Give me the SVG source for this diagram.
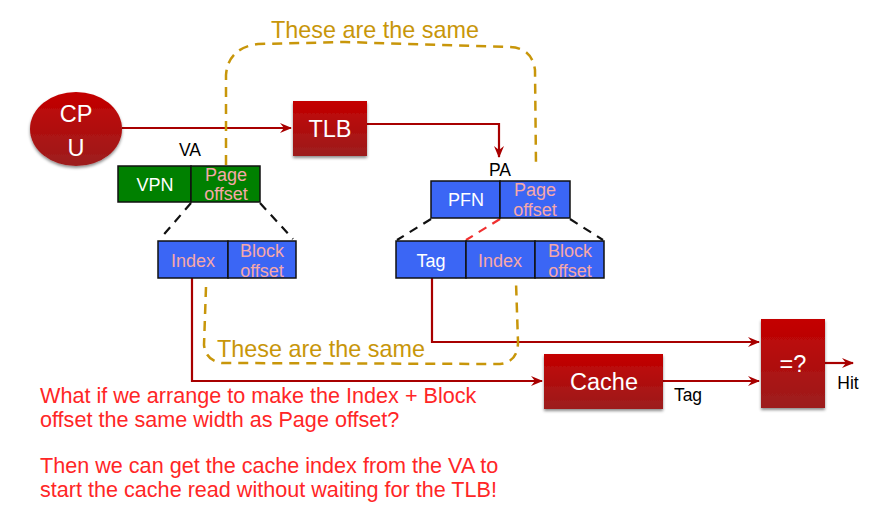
<svg xmlns="http://www.w3.org/2000/svg" width="870" height="507" viewBox="0 0 870 507">
<defs>
<linearGradient id="rg" x1="0" y1="0" x2="0" y2="1">
<stop offset="0" stop-color="#c40000"/>
<stop offset="1" stop-color="#9c1e1e"/>
</linearGradient>
<filter id="sh" x="-20%" y="-20%" width="140%" height="140%">
<feDropShadow dx="0" dy="2" stdDeviation="1.5" flood-color="#000" flood-opacity="0.45"/>
</filter>
<marker id="ah" viewBox="0 0 12 10" refX="11" refY="5" markerWidth="12" markerHeight="10" markerUnits="userSpaceOnUse" orient="auto">
<path d="M0,0 L12,5 L0,10 L4,5 z" fill="#a80000"/>
</marker>
<style>
text{font-family:"Liberation Sans",Arial,sans-serif}
.red{fill:url(#rg);filter:url(#sh)}
.wt{fill:#fff;font-size:23.5px;text-anchor:middle}
.bk{fill:#000;font-size:17.5px;text-anchor:middle}
.grn{fill:#008000;stroke:#111;stroke-width:1.5}
.blu{fill:#3b66f5;stroke:#111;stroke-width:1.5}
.cw{fill:#fff;font-size:18px;text-anchor:middle}
.cp{fill:#f6a8a8;font-size:18px;text-anchor:middle}
.wire{fill:none;stroke:#a80000;stroke-width:2.2}
.gold{fill:none;stroke:#c8960a;stroke-width:2.5;stroke-dasharray:10 7}
.gt{fill:#c8960a;font-size:23.4px}
.bd{stroke:#111;stroke-width:2.2;stroke-dasharray:9 7}
.note{fill:#ff2626;font-size:21.6px}
</style>
</defs>

<g id="connectors">
<path class="wire" d="M122,128 L291,128" marker-end="url(#ah)"/>
<path class="wire" d="M367,124 L499,124 L499,157" marker-end="url(#ah)"/>
<path class="wire" d="M192,278 L192,381 L542,381" marker-end="url(#ah)"/>
<path class="wire" d="M432,278 L432,342 L759,342" marker-end="url(#ah)"/>
<path class="wire" d="M663,381 L759,381" marker-end="url(#ah)"/>
<path class="wire" d="M825,363 L853,363" marker-end="url(#ah)"/>
<line class="bd" x1="191" y1="203" x2="160" y2="239"/>
<line class="bd" x1="260" y1="203" x2="293" y2="239"/>
<line class="bd" x1="431" y1="219" x2="397" y2="240"/>
<line class="bd" x1="570" y1="219" x2="603" y2="240"/>
<line x1="500" y1="219" x2="466" y2="240" stroke="#f03030" stroke-width="2.2" stroke-dasharray="9 7"/>
</g>

<g id="same-top">
<path class="gold" d="M226,165 L226,75 Q228,48 258,44 L345,42 L510,47 Q532,48 535,70 L536,165"/>
<text class="gt" x="375" y="38" text-anchor="middle">These are the same</text>
</g>

<g id="same-bottom">
<path class="gold" d="M206,287 L204,345 Q206,361 222,363 L500,364 Q518,362 518,342 L516,282"/>
<text class="gt" x="217" y="357">These are the same</text>
</g>

<g id="cpu">
<ellipse class="red" cx="76" cy="129" rx="46" ry="37"/>
<text class="wt" x="76" y="122" font-size="24">CP</text>
<text class="wt" x="76" y="156" font-size="24">U</text>
</g>

<g id="tlb">
<rect class="red" x="293" y="101" width="74" height="55"/>
<text class="wt" x="330" y="137">TLB</text>
</g>

<g id="va">
<text class="bk" x="190" y="156">VA</text>
<rect class="grn" x="118" y="166" width="73" height="36"/>
<rect class="grn" x="191" y="166" width="69" height="36"/>
<text class="cw" x="155" y="191">VPN</text>
<text class="cp" x="226" y="181">Page</text>
<text class="cp" x="226" y="200">offset</text>
</g>

<g id="va-cache-bits">
<rect class="blu" x="158" y="241" width="70" height="37"/>
<rect class="blu" x="228" y="241" width="68" height="37"/>
<text class="cp" x="193" y="267">Index</text>
<text class="cp" x="262" y="257">Block</text>
<text class="cp" x="262" y="277">offset</text>
</g>

<g id="pa">
<text class="bk" x="500" y="176">PA</text>
<rect class="blu" x="431" y="181" width="69" height="37"/>
<rect class="blu" x="500" y="181" width="70" height="37"/>
<text class="cw" x="466" y="206">PFN</text>
<text class="cp" x="535" y="196">Page</text>
<text class="cp" x="535" y="216">offset</text>
</g>

<g id="pa-cache-bits">
<rect class="blu" x="396" y="241" width="70" height="37"/>
<rect class="blu" x="466" y="241" width="69" height="37"/>
<rect class="blu" x="535" y="241" width="69" height="37"/>
<text class="cw" x="431" y="267">Tag</text>
<text class="cp" x="500" y="267">Index</text>
<text class="cp" x="570" y="257">Block</text>
<text class="cp" x="570" y="277">offset</text>
</g>

<g id="cache">
<rect class="red" x="544" y="354" width="119" height="55"/>
<text class="wt" x="604" y="390">Cache</text>
<text class="bk" x="688" y="401" font-size="17">Tag</text>
</g>

<g id="compare">
<rect class="red" x="761" y="319" width="64" height="89"/>
<text class="wt" x="793" y="372" font-size="22">=?</text>
<text class="bk" x="848" y="389" font-size="17">Hit</text>
</g>

<g id="notes">
<text class="note" x="40" y="403">What if we arrange to make the Index + Block</text>
<text class="note" x="40" y="427">offset the same width as Page offset?</text>
<text class="note" x="40" y="473">Then we can get the cache index from the VA to</text>
<text class="note" x="40" y="497">start the cache read without waiting for the TLB!</text>
</g>
</svg>
